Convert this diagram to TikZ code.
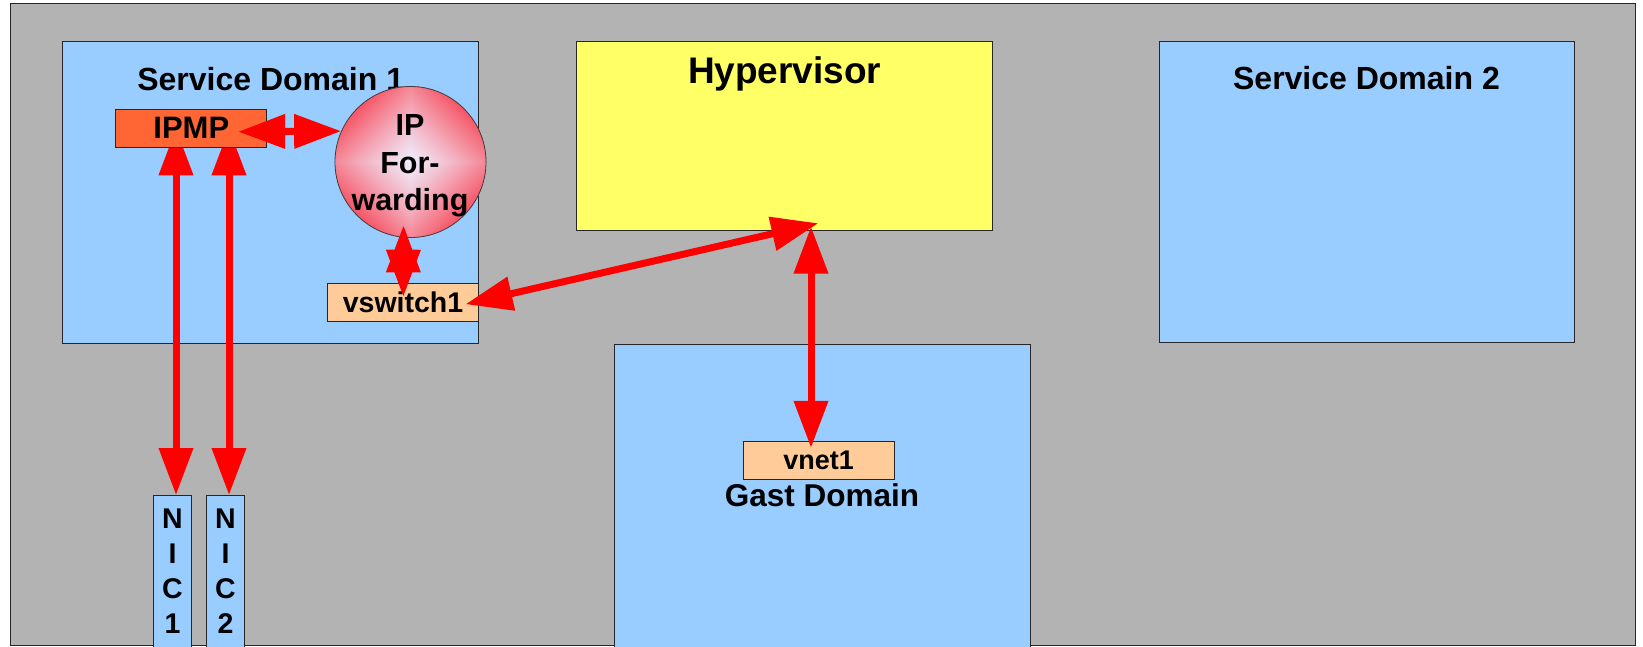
\documentclass[tikz,border=0pt]{standalone}
\usepackage{fontspec}
\setmainfont{Liberation Sans}
\usetikzlibrary{arrows.meta,calc}

\definecolor{slidegray}{HTML}{B3B3B3}
\definecolor{domblue}{HTML}{99CCFF}
\definecolor{hypyellow}{HTML}{FFFF66}
\definecolor{ipmporange}{HTML}{FF6633}
\definecolor{portpeach}{HTML}{FFCC99}
\definecolor{linkred}{HTML}{FF0000}
\definecolor{fwedge}{RGB}{246,84,100}
\definecolor{fwcore}{RGB}{240,236,252}

\pgfdeclarelayer{top}
\pgfsetlayers{main,top}

\begin{document}
\begin{tikzpicture}[x=1pt,y=-1pt,
  box/.style={rectangle, draw=black!85, line width=1pt, inner sep=0pt},
  title/.style={font=\bfseries\fontsize{32pt}{38pt}\selectfont, inner sep=0pt, anchor=base},
  porttext/.style={font=\bfseries\fontsize{#1}{1.2\dimexpr#1\relax}\selectfont},
  redlink/.style={draw=linkred, line width=7pt,
    {Triangle[length=47pt,width=33pt]}-{Triangle[length=47pt,width=33pt]}},
  nicbox/.style={box, fill=domblue, anchor=north, align=center,
    font=\bfseries\fontsize{28.5pt}{35pt}\selectfont,
    inner ysep=13pt, inner xsep=0pt, text depth=30pt}
]
\useasboundingbox (0,0) rectangle (1643,646);

% slide background
\node[box, fill=slidegray, minimum width=1625pt, minimum height=642pt] (frame) at (822.5,324) {};

% domains and hypervisor
\node[box, fill=domblue, minimum width=416pt, minimum height=301.6pt] (sd1) at (270.7,192.5) {};
\node[box, fill=domblue, minimum width=415pt, minimum height=301pt] (sd2) at (1366.5,192.2) {};
\node[box, fill=hypyellow, minimum width=416pt, minimum height=188.3pt] (hyp) at (784.7,135.9) {};
\node[box, fill=domblue, minimum width=416pt, minimum height=360pt, anchor=north] (gast) at (822.3,344) {};

\node[title] (sd1t) at (270.7,90) {Service Domain 1};
\node[title] (sd2t) at (1366.5,89) {Service Domain 2};
\node[title, font=\bfseries\fontsize{37pt}{44pt}\selectfont] (hypt) at (784.7,83.3) {Hypervisor};
\node[title, font=\bfseries\fontsize{31.5pt}{38pt}\selectfont] (gastt) at (822,506.7) {Gast Domain};

% physical NICs
\node[nicbox, minimum width=38.4pt] (nic1) at (172.5,495) {N\\I\\C\\1};
\node[nicbox, minimum width=37.6pt] (nic2) at (225.5,495) {N\\I\\C\\2};

% IP forwarding engine with diamond gradient
\node[circle, draw=black!75, line width=0.8pt, minimum size=151pt, inner sep=0pt,
  path picture={
    \begin{scope}[shift={(path picture bounding box.center)}]
      \foreach \k in {45,44,...,1}{
        \pgfmathsetmacro\p{100*(\k/45)^1.2}
        \fill[fwedge!\p!fwcore] (0,\k*2.4) -- (\k*2.4,0) -- (0,-\k*2.4) -- (-\k*2.4,0) -- cycle;
      }
    \end{scope}
  }] (ipf) at (410.5,162) {};
\node[align=center, inner sep=0pt, font=\bfseries\fontsize{30.5pt}{37.5pt}\selectfont] (ipft) at (410,166) {IP\\For-\\warding};

% virtual ports
\node[box, fill=portpeach, minimum width=151.4pt, minimum height=37.7pt, porttext=28.5pt] (vsw) at (403,302.2) {vswitch1};
\node[box, fill=portpeach, minimum width=151.3pt, minimum height=37.6pt, porttext=27pt] (vnet) at (818.7,460.5) {vnet1};

% IPMP group sits above the NIC links
\begin{pgfonlayer}{top}
\node[box, fill=ipmporange, minimum width=150.7pt, minimum height=38pt, porttext=31pt] (ipmp) at (191.3,128.3) {IPMP};
\end{pgfonlayer}

% NIC links run under the IPMP box
\draw[redlink] ([xshift=3.5pt]nic1.north |- ipmp.center) -- ([xshift=3.5pt]nic1.north);
\draw[redlink] ([xshift=3.5pt]nic2.north |- ipmp.center) -- ([xshift=3.5pt]nic2.north);

\begin{pgfonlayer}{top}
\draw[redlink] ([shift={(-29pt,-3.4pt)}]ipmp.east) -- (ipf.156);
\draw[redlink] ([shift={(-7pt,12.5pt)}]ipf.south) -- ([shift={(0.3pt,5.5pt)}]vsw.center);
\draw[redlink] ([shift={(-13.7pt,-2pt)}]vsw.east) -- ([shift={(33.6pt,7.3pt)}]hyp.south);
\draw[redlink] ([shift={(26.3pt,4pt)}]hyp.south) -- ([shift={(-7.7pt,-6.6pt)}]vnet.north);
\end{pgfonlayer}
\end{tikzpicture}
\end{document}
